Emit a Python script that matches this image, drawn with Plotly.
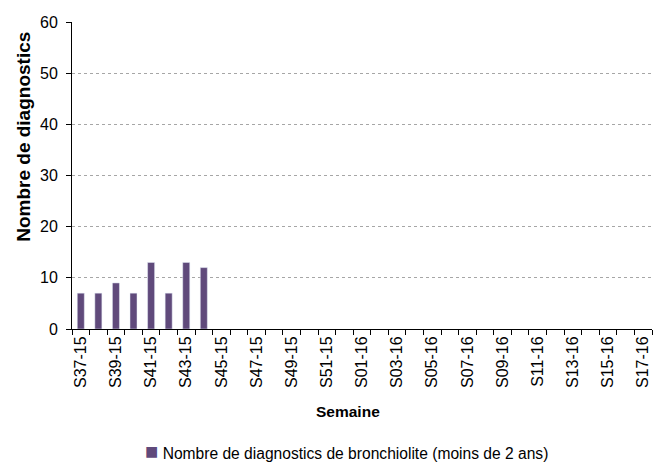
import plotly.graph_objects as go

# ── 데이터 ──
weeks_2015 = [f"S{w:02d}-15" for w in range(37, 53)]
weeks_2016 = [f"S{w:02d}-16" for w in range(1, 18)]
semaines = weeks_2015 + weeks_2016

diagnostics = [7, 7, 9, 7, 13, 7, 13, 12] + [None] * (len(semaines) - 8)

tick_text = [s if i % 2 == 0 else "" for i, s in enumerate(semaines)]

SERIE = "Nombre de diagnostics de bronchiolite (moins de 2 ans)"
COLOR = "#604A7B"
FONT = "Liberation Sans, Arial, sans-serif"

fig = go.Figure()
fig.add_trace(go.Bar(
    x=semaines, y=diagnostics,
    name=SERIE,
    marker_color=COLOR,
    width=0.4,
    showlegend=False,
))

# 축 제목 / 범례는 주석으로 (위치 맞춤)
fig.add_annotation(
    xref="paper", yref="paper", x=-0.084, y=0.627, xanchor="center", yanchor="middle",
    text="<b>Nombre de diagnostics</b>", textangle=-90,
    showarrow=False, font=dict(size=19),
)
fig.add_annotation(
    xref="paper", yref="paper", x=0.476, y=-0.268, xanchor="center", yanchor="middle",
    text="<b>Semaine</b>", showarrow=False, font=dict(size=15.5),
)
fig.add_annotation(
    xref="paper", yref="paper", x=0.474, y=-0.398, xanchor="center", yanchor="middle",
    text=f"<span style='color:{COLOR};font-size:22px'>■</span> {SERIE}",
    showarrow=False, font=dict(size=15.6),
)

fig.update_layout(
    width=657, height=458,
    plot_bgcolor="white", paper_bgcolor="white",
    margin=dict(l=64, r=13, t=14, b=137),
    font=dict(family=FONT, size=16, color="black"),
)

fig.update_xaxes(
    type="category", automargin=False,
    tickmode="array", tickvals=semaines, ticktext=tick_text,
    tickangle=-90, tickson="boundaries",
    ticks="outside", ticklen=5, tickcolor="black",
    showline=True, linecolor="black", linewidth=1,
    showgrid=False,
    tickfont=dict(size=16),
)
fig.update_yaxes(
    range=[0, 60], dtick=10, automargin=False,
    ticks="outside", ticklen=5, tickcolor="black", ticklabelstandoff=5,
    showline=True, linecolor="black", linewidth=1,
    showgrid=True, gridcolor="#a6a6a6", griddash="dot", gridwidth=1,
    zeroline=False,
    tickfont=dict(size=16),
)

fig.write_html("out.html")
